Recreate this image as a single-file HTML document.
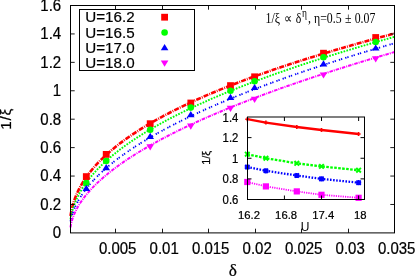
<!DOCTYPE html>
<html><head><meta charset="utf-8"><title>chart</title>
<style>html,body{margin:0;padding:0;background:#fff;}body{width:415px;height:277px;overflow:hidden;font-family:"Liberation Sans",sans-serif;}svg{display:block;will-change:transform;}</style>
</head><body>
<svg width="415" height="277" viewBox="0 0 415 277">
<rect width="415" height="277" fill="#fff"/>
<g fill="none">
<polyline points="70.50,216.00 70.75,214.39 70.99,212.95 71.24,211.63 71.49,210.41 71.73,209.28 71.98,208.21 72.23,207.20 72.47,206.24 72.72,205.33 72.97,204.45 73.22,203.61 73.46,202.80 73.71,202.02 73.96,201.26 74.20,200.52 74.45,199.81 74.70,199.12 74.94,198.44 75.19,197.79 75.44,197.14 75.68,196.52 75.93,195.90 76.18,195.30 76.42,194.72 76.67,194.14 76.92,193.58 77.16,193.02 77.41,192.48 77.66,191.95 77.91,191.42 78.15,190.90 78.40,190.40 78.65,189.90 78.89,189.40 79.14,188.92 79.39,188.44 79.63,187.97 79.88,187.50 80.13,187.04 80.37,186.59 80.62,186.14 80.87,185.70 81.11,185.27 81.36,184.83 81.61,184.41 81.85,183.99 82.10,183.57 82.35,183.16 82.59,182.75 82.84,182.35 83.09,181.95 83.34,181.56 83.58,181.17 83.83,180.78 84.08,180.40 84.32,180.02 84.57,179.64 84.82,179.27 85.06,178.90 85.31,178.53 85.56,178.17 85.80,177.81 86.05,177.46 86.30,177.10 86.54,176.75 86.79,176.41 87.04,176.06 87.28,175.72 87.53,175.38 87.78,175.05 88.03,174.71 88.27,174.38 88.52,174.05 88.77,173.72 89.01,173.40 89.26,173.08 89.51,172.76 89.75,172.44 90.00,172.13 92.04,169.60 94.09,167.20 96.13,164.90 98.17,162.71 100.22,160.61 102.26,158.58 104.31,156.62 106.35,154.73 108.39,152.89 110.44,151.11 112.48,149.38 114.52,147.70 116.57,146.06 118.61,144.46 120.65,142.89 122.70,141.37 124.74,139.87 126.79,138.41 128.83,136.97 130.87,135.57 132.92,134.19 134.96,132.83 137.00,131.50 139.05,130.19 141.09,128.90 143.13,127.64 145.18,126.39 147.22,125.16 149.27,123.95 151.31,122.76 153.35,121.59 155.40,120.43 157.44,119.29 159.48,118.16 161.53,117.04 163.57,115.94 165.61,114.86 167.66,113.79 169.70,112.73 171.74,111.68 173.79,110.64 175.83,109.62 177.88,108.60 179.92,107.60 181.96,106.61 184.01,105.63 186.05,104.65 188.09,103.69 190.14,102.74 192.18,101.79 194.22,100.86 196.27,99.93 198.31,99.01 200.36,98.11 202.40,97.20 204.44,96.31 206.49,95.42 208.53,94.55 210.57,93.67 212.62,92.81 214.66,91.95 216.70,91.10 218.75,90.26 220.79,89.42 222.84,88.59 224.88,87.77 226.92,86.95 228.97,86.14 231.01,85.33 233.05,84.53 235.10,83.74 237.14,82.95 239.18,82.16 241.23,81.38 243.27,80.61 245.32,79.84 247.36,79.08 249.40,78.32 251.45,77.57 253.49,76.82 255.53,76.08 257.58,75.34 259.62,74.60 261.66,73.87 263.71,73.15 265.75,72.43 267.80,71.71 269.84,71.00 271.88,70.29 273.93,69.58 275.97,68.88 278.01,68.19 280.06,67.49 282.10,66.81 284.14,66.12 286.19,65.44 288.23,64.76 290.28,64.09 292.32,63.42 294.36,62.75 296.41,62.09 298.45,61.43 300.49,60.77 302.54,60.12 304.58,59.46 306.62,58.82 308.67,58.17 310.71,57.53 312.76,56.89 314.80,56.26 316.84,55.63 318.89,55.00 320.93,54.37 322.97,53.75 325.02,53.13 327.06,52.51 329.10,51.90 331.15,51.29 333.19,50.68 335.23,50.07 337.28,49.47 339.32,48.87 341.37,48.27 343.41,47.67 345.45,47.08 347.50,46.49 349.54,45.90 351.58,45.31 353.63,44.73 355.67,44.15 357.71,43.57 359.76,42.99 361.80,42.42 363.85,41.85 365.89,41.28 367.93,40.71 369.98,40.14 372.02,39.58 374.06,39.02 376.11,38.46 378.15,37.90 380.19,37.35 382.24,36.80 384.28,36.25 386.33,35.70 388.37,35.15 390.41,34.61 392.46,34.07 394.50,33.52" stroke="#ff0000" stroke-width="2.6" stroke-dasharray="5 1.1 0.9 1.1"/>
<polyline points="70.50,219.44 70.75,217.93 70.99,216.58 71.24,215.36 71.49,214.22 71.73,213.17 71.98,212.17 72.23,211.23 72.47,210.33 72.72,209.48 72.97,208.66 73.22,207.87 73.46,207.11 73.71,206.38 73.96,205.67 74.20,204.98 74.45,204.31 74.70,203.65 74.94,203.02 75.19,202.40 75.44,201.79 75.68,201.20 75.93,200.62 76.18,200.06 76.42,199.50 76.67,198.96 76.92,198.42 77.16,197.90 77.41,197.38 77.66,196.87 77.91,196.37 78.15,195.88 78.40,195.40 78.65,194.92 78.89,194.45 79.14,193.99 79.39,193.53 79.63,193.08 79.88,192.64 80.13,192.20 80.37,191.77 80.62,191.34 80.87,190.92 81.11,190.50 81.36,190.09 81.61,189.68 81.85,189.27 82.10,188.87 82.35,188.48 82.59,188.09 82.84,187.70 83.09,187.32 83.34,186.94 83.58,186.56 83.83,186.19 84.08,185.82 84.32,185.46 84.57,185.09 84.82,184.74 85.06,184.38 85.31,184.03 85.56,183.68 85.80,183.33 86.05,182.99 86.30,182.65 86.54,182.31 86.79,181.97 87.04,181.64 87.28,181.31 87.53,180.98 87.78,180.65 88.03,180.33 88.27,180.01 88.52,179.69 88.77,179.37 89.01,179.06 89.26,178.75 89.51,178.44 89.75,178.13 90.00,177.82 92.04,175.36 94.09,173.02 96.13,170.78 98.17,168.63 100.22,166.57 102.26,164.57 104.31,162.65 106.35,160.78 108.39,158.97 110.44,157.21 112.48,155.49 114.52,153.82 116.57,152.19 118.61,150.60 120.65,149.05 122.70,147.52 124.74,146.03 126.79,144.57 128.83,143.13 130.87,141.73 132.92,140.34 134.96,138.99 137.00,137.65 139.05,136.34 141.09,135.04 143.13,133.77 145.18,132.52 147.22,131.28 149.27,130.06 151.31,128.86 153.35,127.67 155.40,126.50 157.44,125.35 159.48,124.21 161.53,123.08 163.57,121.96 165.61,120.86 167.66,119.78 169.70,118.70 171.74,117.64 173.79,116.58 175.83,115.54 177.88,114.51 179.92,113.49 181.96,112.48 184.01,111.48 186.05,110.49 188.09,109.51 190.14,108.54 192.18,107.57 194.22,106.62 196.27,105.67 198.31,104.73 200.36,103.80 202.40,102.88 204.44,101.97 206.49,101.06 208.53,100.16 210.57,99.27 212.62,98.38 214.66,97.50 216.70,96.63 218.75,95.77 220.79,94.91 222.84,94.05 224.88,93.21 226.92,92.36 228.97,91.53 231.01,90.70 233.05,89.88 235.10,89.06 237.14,88.25 239.18,87.44 241.23,86.64 243.27,85.84 245.32,85.05 247.36,84.26 249.40,83.48 251.45,82.70 253.49,81.93 255.53,81.16 257.58,80.40 259.62,79.64 261.66,78.88 263.71,78.13 265.75,77.39 267.80,76.65 269.84,75.91 271.88,75.18 273.93,74.45 275.97,73.72 278.01,73.00 280.06,72.28 282.10,71.57 284.14,70.86 286.19,70.15 288.23,69.45 290.28,68.75 292.32,68.05 294.36,67.36 296.41,66.67 298.45,65.98 300.49,65.30 302.54,64.62 304.58,63.94 306.62,63.27 308.67,62.60 310.71,61.93 312.76,61.27 314.80,60.61 316.84,59.95 318.89,59.30 320.93,58.64 322.97,58.00 325.02,57.35 327.06,56.71 329.10,56.06 331.15,55.43 333.19,54.79 335.23,54.16 337.28,53.53 339.32,52.90 341.37,52.28 343.41,51.65 345.45,51.03 347.50,50.42 349.54,49.80 351.58,49.19 353.63,48.58 355.67,47.97 357.71,47.37 359.76,46.76 361.80,46.16 363.85,45.56 365.89,44.97 367.93,44.37 369.98,43.78 372.02,43.19 374.06,42.60 376.11,42.02 378.15,41.43 380.19,40.85 382.24,40.27 384.28,39.70 386.33,39.12 388.37,38.55 390.41,37.98 392.46,37.41 394.50,36.84" stroke="#00ff00" stroke-width="1.9" stroke-dasharray="1.7 1.3"/>
<polyline points="70.50,221.38 70.75,220.18 70.99,219.08 71.24,218.06 71.49,217.12 71.73,216.22 71.98,215.38 72.23,214.57 72.47,213.80 72.72,213.06 72.97,212.35 73.22,211.66 73.46,211.00 73.71,210.35 73.96,209.73 74.20,209.12 74.45,208.52 74.70,207.94 74.94,207.38 75.19,206.83 75.44,206.28 75.68,205.75 75.93,205.24 76.18,204.73 76.42,204.23 76.67,203.73 76.92,203.25 77.16,202.78 77.41,202.31 77.66,201.85 77.91,201.39 78.15,200.95 78.40,200.51 78.65,200.07 78.89,199.64 79.14,199.22 79.39,198.80 79.63,198.39 79.88,197.98 80.13,197.58 80.37,197.18 80.62,196.79 80.87,196.40 81.11,196.02 81.36,195.64 81.61,195.26 81.85,194.89 82.10,194.52 82.35,194.15 82.59,193.79 82.84,193.43 83.09,193.08 83.34,192.73 83.58,192.38 83.83,192.03 84.08,191.69 84.32,191.35 84.57,191.01 84.82,190.68 85.06,190.35 85.31,190.02 85.56,189.69 85.80,189.37 86.05,189.04 86.30,188.73 86.54,188.41 86.79,188.09 87.04,187.78 87.28,187.47 87.53,187.17 87.78,186.86 88.03,186.56 88.27,186.25 88.52,185.96 88.77,185.66 89.01,185.36 89.26,185.07 89.51,184.78 89.75,184.49 90.00,184.20 92.04,181.88 94.09,179.66 96.13,177.53 98.17,175.48 100.22,173.51 102.26,171.60 104.31,169.75 106.35,167.96 108.39,166.21 110.44,164.51 112.48,162.86 114.52,161.24 116.57,159.66 118.61,158.11 120.65,156.60 122.70,155.11 124.74,153.66 126.79,152.23 128.83,150.82 130.87,149.44 132.92,148.09 134.96,146.75 137.00,145.44 139.05,144.15 141.09,142.87 143.13,141.62 145.18,140.38 147.22,139.16 149.27,137.95 151.31,136.76 153.35,135.59 155.40,134.43 157.44,133.28 159.48,132.15 161.53,131.03 163.57,129.92 165.61,128.83 167.66,127.74 169.70,126.67 171.74,125.61 173.79,124.56 175.83,123.52 177.88,122.49 179.92,121.47 181.96,120.46 184.01,119.45 186.05,118.46 188.09,117.48 190.14,116.50 192.18,115.54 194.22,114.58 196.27,113.63 198.31,112.68 200.36,111.75 202.40,110.82 204.44,109.90 206.49,108.98 208.53,108.08 210.57,107.18 212.62,106.28 214.66,105.39 216.70,104.51 218.75,103.64 220.79,102.77 222.84,101.91 224.88,101.05 226.92,100.20 228.97,99.35 231.01,98.51 233.05,97.68 235.10,96.85 237.14,96.02 239.18,95.20 241.23,94.39 243.27,93.58 245.32,92.77 247.36,91.97 249.40,91.18 251.45,90.39 253.49,89.60 255.53,88.82 257.58,88.04 259.62,87.27 261.66,86.50 263.71,85.73 265.75,84.97 267.80,84.21 269.84,83.46 271.88,82.71 273.93,81.97 275.97,81.22 278.01,80.49 280.06,79.75 282.10,79.02 284.14,78.29 286.19,77.57 288.23,76.85 290.28,76.13 292.32,75.42 294.36,74.71 296.41,74.00 298.45,73.30 300.49,72.60 302.54,71.90 304.58,71.21 306.62,70.52 308.67,69.83 310.71,69.14 312.76,68.46 314.80,67.78 316.84,67.11 318.89,66.43 320.93,65.76 322.97,65.09 325.02,64.43 327.06,63.76 329.10,63.10 331.15,62.45 333.19,61.79 335.23,61.14 337.28,60.49 339.32,59.84 341.37,59.20 343.41,58.56 345.45,57.92 347.50,57.28 349.54,56.64 351.58,56.01 353.63,55.38 355.67,54.75 357.71,54.13 359.76,53.50 361.80,52.88 363.85,52.26 365.89,51.64 367.93,51.03 369.98,50.42 372.02,49.81 374.06,49.20 376.11,48.59 378.15,47.99 380.19,47.38 382.24,46.78 384.28,46.18 386.33,45.59 388.37,44.99 390.41,44.40 392.46,43.81 394.50,43.22" stroke="#0000ff" stroke-width="1.8" stroke-dasharray="1.3 0.9 1.3 3.1"/>
<polyline points="70.50,227.39 70.75,225.78 70.99,224.45 71.24,223.30 71.49,222.26 71.73,221.31 71.98,220.43 72.23,219.61 72.47,218.82 72.72,218.08 72.97,217.37 73.22,216.69 73.46,216.03 73.71,215.40 73.96,214.79 74.20,214.20 74.45,213.62 74.70,213.06 74.94,212.51 75.19,211.98 75.44,211.46 75.68,210.95 75.93,210.45 76.18,209.96 76.42,209.48 76.67,209.01 76.92,208.55 77.16,208.10 77.41,207.65 77.66,207.21 77.91,206.78 78.15,206.36 78.40,205.94 78.65,205.52 78.89,205.12 79.14,204.71 79.39,204.32 79.63,203.93 79.88,203.54 80.13,203.16 80.37,202.78 80.62,202.41 80.87,202.04 81.11,201.67 81.36,201.31 81.61,200.95 81.85,200.60 82.10,200.25 82.35,199.90 82.59,199.56 82.84,199.22 83.09,198.88 83.34,198.55 83.58,198.22 83.83,197.89 84.08,197.56 84.32,197.24 84.57,196.92 84.82,196.60 85.06,196.29 85.31,195.98 85.56,195.67 85.80,195.36 86.05,195.05 86.30,194.75 86.54,194.45 86.79,194.15 87.04,193.85 87.28,193.56 87.53,193.27 87.78,192.98 88.03,192.69 88.27,192.40 88.52,192.12 88.77,191.84 89.01,191.56 89.26,191.28 89.51,191.00 89.75,190.72 90.00,190.45 92.04,188.24 94.09,186.13 96.13,184.10 98.17,182.15 100.22,180.26 102.26,178.44 104.31,176.67 106.35,174.95 108.39,173.27 110.44,171.64 112.48,170.05 114.52,168.50 116.57,166.98 118.61,165.49 120.65,164.03 122.70,162.59 124.74,161.19 126.79,159.81 128.83,158.45 130.87,157.12 132.92,155.81 134.96,154.51 137.00,153.24 139.05,151.99 141.09,150.75 143.13,149.53 145.18,148.33 147.22,147.14 149.27,145.97 151.31,144.81 153.35,143.67 155.40,142.54 157.44,141.42 159.48,140.31 161.53,139.22 163.57,138.14 165.61,137.07 167.66,136.01 169.70,134.96 171.74,133.92 173.79,132.89 175.83,131.87 177.88,130.87 179.92,129.87 181.96,128.87 184.01,127.89 186.05,126.92 188.09,125.95 190.14,124.99 192.18,124.04 194.22,123.10 196.27,122.17 198.31,121.24 200.36,120.32 202.40,119.40 204.44,118.50 206.49,117.60 208.53,116.70 210.57,115.81 212.62,114.93 214.66,114.06 216.70,113.19 218.75,112.32 220.79,111.47 222.84,110.61 224.88,109.77 226.92,108.93 228.97,108.09 231.01,107.26 233.05,106.43 235.10,105.61 237.14,104.79 239.18,103.98 241.23,103.18 243.27,102.37 245.32,101.58 247.36,100.78 249.40,99.99 251.45,99.21 253.49,98.43 255.53,97.65 257.58,96.88 259.62,96.11 261.66,95.35 263.71,94.59 265.75,93.83 267.80,93.08 269.84,92.33 271.88,91.59 273.93,90.84 275.97,90.11 278.01,89.37 280.06,88.64 282.10,87.91 284.14,87.19 286.19,86.47 288.23,85.75 290.28,85.04 292.32,84.32 294.36,83.62 296.41,82.91 298.45,82.21 300.49,81.51 302.54,80.81 304.58,80.12 306.62,79.43 308.67,78.74 310.71,78.06 312.76,77.38 314.80,76.70 316.84,76.02 318.89,75.35 320.93,74.68 322.97,74.01 325.02,73.34 327.06,72.68 329.10,72.02 331.15,71.36 333.19,70.71 335.23,70.05 337.28,69.40 339.32,68.76 341.37,68.11 343.41,67.47 345.45,66.82 347.50,66.19 349.54,65.55 351.58,64.91 353.63,64.28 355.67,63.65 357.71,63.02 359.76,62.40 361.80,61.77 363.85,61.15 365.89,60.53 367.93,59.91 369.98,59.30 372.02,58.69 374.06,58.07 376.11,57.46 378.15,56.86 380.19,56.25 382.24,55.65 384.28,55.05 386.33,54.45 388.37,53.85 390.41,53.25 392.46,52.66 394.50,52.06" stroke="#ff00ff" stroke-width="2.0" stroke-dasharray="3.5 1 1 1"/>
</g>
<rect x="82.9" y="173.2" width="6.8" height="6.8" fill="#ff0000"/>
<rect x="102.8" y="151.0" width="6.8" height="6.8" fill="#ff0000"/>
<rect x="146.8" y="120.3" width="6.8" height="6.8" fill="#ff0000"/>
<rect x="187.4" y="99.6" width="6.8" height="6.8" fill="#ff0000"/>
<rect x="227.1" y="82.2" width="6.8" height="6.8" fill="#ff0000"/>
<rect x="251.2" y="73.4" width="6.8" height="6.8" fill="#ff0000"/>
<rect x="320.1" y="49.8" width="6.8" height="6.8" fill="#ff0000"/>
<rect x="372.3" y="34.1" width="6.8" height="6.8" fill="#ff0000"/>
<circle cx="86.3" cy="183.1" r="3.3" fill="#00ff00"/>
<circle cx="106.2" cy="161.0" r="3.3" fill="#00ff00"/>
<circle cx="150.2" cy="129.7" r="3.3" fill="#00ff00"/>
<circle cx="190.8" cy="107.6" r="3.3" fill="#00ff00"/>
<circle cx="230.5" cy="90.7" r="3.3" fill="#00ff00"/>
<circle cx="254.6" cy="81.2" r="3.3" fill="#00ff00"/>
<circle cx="323.5" cy="57.3" r="3.3" fill="#00ff00"/>
<circle cx="375.7" cy="42.0" r="3.3" fill="#00ff00"/>
<path d="M82.5,190.9 L90.1,190.9 L86.3,184.7 Z" fill="#0000ff"/>
<path d="M102.4,170.2 L110.0,170.2 L106.2,164.0 Z" fill="#0000ff"/>
<path d="M146.4,138.9 L154.0,138.9 L150.2,132.7 Z" fill="#0000ff"/>
<path d="M187.0,117.2 L194.6,117.2 L190.8,111.0 Z" fill="#0000ff"/>
<path d="M226.7,99.9 L234.3,99.9 L230.5,93.7 Z" fill="#0000ff"/>
<path d="M250.8,90.1 L258.4,90.1 L254.6,83.9 Z" fill="#0000ff"/>
<path d="M319.7,66.5 L327.3,66.5 L323.5,60.3 Z" fill="#0000ff"/>
<path d="M371.9,50.6 L379.5,50.6 L375.7,44.4 Z" fill="#0000ff"/>
<path d="M146.4,144.2 L154.0,144.2 L150.2,150.4 Z" fill="#ff00ff"/>
<path d="M187.0,123.5 L194.6,123.5 L190.8,129.7 Z" fill="#ff00ff"/>
<path d="M226.7,105.8 L234.3,105.8 L230.5,112.0 Z" fill="#ff00ff"/>
<path d="M250.8,96.7 L258.4,96.7 L254.6,102.9 Z" fill="#ff00ff"/>
<path d="M319.7,72.4 L327.3,72.4 L323.5,78.6 Z" fill="#ff00ff"/>
<path d="M371.9,56.2 L379.5,56.2 L375.7,62.4 Z" fill="#ff00ff"/>
<g stroke="#000" stroke-width="1" fill="none">
<rect x="70.5" y="5.5" width="324.0" height="227.4"/>
<path d="M115.50,232.9 v-4.2 M115.50,5.5 v4.2" stroke-width="0.9"/>
<path d="M162.50,232.9 v-4.2 M162.50,5.5 v4.2" stroke-width="0.9"/>
<path d="M208.50,232.9 v-4.2 M208.50,5.5 v4.2" stroke-width="0.9"/>
<path d="M255.50,232.9 v-4.2 M255.50,5.5 v4.2" stroke-width="0.9"/>
<path d="M301.50,232.9 v-4.2 M301.50,5.5 v4.2" stroke-width="0.9"/>
<path d="M348.50,232.9 v-4.2 M348.50,5.5 v4.2" stroke-width="0.9"/>
<path d="M70.5,204.47 h4.2 M394.5,204.47 h-4.2" stroke-width="0.9"/>
<path d="M70.5,176.05 h4.2 M394.5,176.05 h-4.2" stroke-width="0.9"/>
<path d="M70.5,147.62 h4.2 M394.5,147.62 h-4.2" stroke-width="0.9"/>
<path d="M70.5,119.20 h4.2 M394.5,119.20 h-4.2" stroke-width="0.9"/>
<path d="M70.5,90.78 h4.2 M394.5,90.78 h-4.2" stroke-width="0.9"/>
<path d="M70.5,62.35 h4.2 M394.5,62.35 h-4.2" stroke-width="0.9"/>
<path d="M70.5,33.93 h4.2 M394.5,33.93 h-4.2" stroke-width="0.9"/>
</g>
<rect x="79.5" y="9.5" width="115.0" height="61.0" fill="#fff" stroke="#000" stroke-width="1"/>
<g font-family="Liberation Sans, sans-serif" font-size="15.5" fill="#000">
<text transform="translate(85.20,22.40) scale(1.0,1.02)" font-family="Liberation Sans, sans-serif" font-size="15.2" text-anchor="start" fill="#000" stroke="#000" stroke-width="0.2">U=16.2</text>
<text transform="translate(85.20,37.70) scale(1.0,1.02)" font-family="Liberation Sans, sans-serif" font-size="15.2" text-anchor="start" fill="#000" stroke="#000" stroke-width="0.2">U=16.5</text>
<text transform="translate(85.20,53.00) scale(1.0,1.02)" font-family="Liberation Sans, sans-serif" font-size="15.2" text-anchor="start" fill="#000" stroke="#000" stroke-width="0.2">U=17.0</text>
<text transform="translate(85.20,68.30) scale(1.0,1.02)" font-family="Liberation Sans, sans-serif" font-size="15.2" text-anchor="start" fill="#000" stroke="#000" stroke-width="0.2">U=18.0</text>
</g>
<rect x="161.2" y="13.8" width="6.8" height="6.8" fill="#ff0000"/>
<circle cx="164.6" cy="32.5" r="3.3" fill="#00ff00"/>
<path d="M160.8,50.3 L168.4,50.3 L164.6,44.1 Z" fill="#0000ff"/>
<path d="M160.8,60.6 L168.4,60.6 L164.6,66.8 Z" fill="#ff00ff"/>
<g font-family="Liberation Sans, sans-serif" font-size="15" fill="#000">
<text transform="translate(61.20,238.20) scale(1.0,1.09)" font-family="Liberation Sans, sans-serif" font-size="15" text-anchor="end" fill="#000" stroke="#000" stroke-width="0.22">0</text>
<text transform="translate(61.20,209.78) scale(1.0,1.09)" font-family="Liberation Sans, sans-serif" font-size="15" text-anchor="end" fill="#000" stroke="#000" stroke-width="0.22">0.2</text>
<text transform="translate(61.20,181.35) scale(1.0,1.09)" font-family="Liberation Sans, sans-serif" font-size="15" text-anchor="end" fill="#000" stroke="#000" stroke-width="0.22">0.4</text>
<text transform="translate(61.20,152.93) scale(1.0,1.09)" font-family="Liberation Sans, sans-serif" font-size="15" text-anchor="end" fill="#000" stroke="#000" stroke-width="0.22">0.6</text>
<text transform="translate(61.20,124.50) scale(1.0,1.09)" font-family="Liberation Sans, sans-serif" font-size="15" text-anchor="end" fill="#000" stroke="#000" stroke-width="0.22">0.8</text>
<text transform="translate(61.20,96.08) scale(1.0,1.09)" font-family="Liberation Sans, sans-serif" font-size="15" text-anchor="end" fill="#000" stroke="#000" stroke-width="0.22">1</text>
<text transform="translate(61.20,67.65) scale(1.0,1.09)" font-family="Liberation Sans, sans-serif" font-size="15" text-anchor="end" fill="#000" stroke="#000" stroke-width="0.22">1.2</text>
<text transform="translate(61.20,39.23) scale(1.0,1.09)" font-family="Liberation Sans, sans-serif" font-size="15" text-anchor="end" fill="#000" stroke="#000" stroke-width="0.22">1.4</text>
<text transform="translate(61.20,10.80) scale(1.0,1.09)" font-family="Liberation Sans, sans-serif" font-size="15" text-anchor="end" fill="#000" stroke="#000" stroke-width="0.22">1.6</text>
<text transform="translate(117.70,253.60) scale(1.0,1.09)" font-family="Liberation Sans, sans-serif" font-size="15" text-anchor="middle" fill="#000" stroke="#000" stroke-width="0.22">0.005</text>
<text transform="translate(164.20,253.60) scale(1.0,1.09)" font-family="Liberation Sans, sans-serif" font-size="15" text-anchor="middle" fill="#000" stroke="#000" stroke-width="0.22">0.01</text>
<text transform="translate(210.70,253.60) scale(1.0,1.09)" font-family="Liberation Sans, sans-serif" font-size="15" text-anchor="middle" fill="#000" stroke="#000" stroke-width="0.22">0.015</text>
<text transform="translate(257.20,253.60) scale(1.0,1.09)" font-family="Liberation Sans, sans-serif" font-size="15" text-anchor="middle" fill="#000" stroke="#000" stroke-width="0.22">0.02</text>
<text transform="translate(303.70,253.60) scale(1.0,1.09)" font-family="Liberation Sans, sans-serif" font-size="15" text-anchor="middle" fill="#000" stroke="#000" stroke-width="0.22">0.025</text>
<text transform="translate(350.20,253.60) scale(1.0,1.09)" font-family="Liberation Sans, sans-serif" font-size="15" text-anchor="middle" fill="#000" stroke="#000" stroke-width="0.22">0.03</text>
<text transform="translate(396.70,253.60) scale(1.0,1.09)" font-family="Liberation Sans, sans-serif" font-size="15" text-anchor="middle" fill="#000" stroke="#000" stroke-width="0.22">0.035</text>
</g>
<text transform="translate(232.80,275.60) scale(1.05,1.0)" font-family="Liberation Serif, serif" font-size="16.5" text-anchor="middle" fill="#000" stroke="#000" stroke-width="0.22">δ</text>
<text transform="translate(10.80,119.20) rotate(-90) scale(1.09,1.0)" font-family="Liberation Sans, sans-serif" font-size="14" text-anchor="middle" fill="#000" stroke="#000" stroke-width="0.22"><tspan letter-spacing="0.7">1/</tspan>ξ</text>
<text transform="translate(265.50,23.20) scale(1.0,1.21)" font-family="Liberation Serif, serif" font-size="11.8" text-anchor="start" fill="#000">1/ξ</text>
<text transform="translate(283.50,23.20) scale(1.0,1.21)" font-family="Liberation Serif, serif" font-size="11.8" text-anchor="start" fill="#000">∝</text>
<text transform="translate(295.80,23.20) scale(1.0,1.21)" font-family="Liberation Serif, serif" font-size="11.8" text-anchor="start" fill="#000">δ</text>
<text transform="translate(302.00,17.40) scale(1.0,1.21)" font-family="Liberation Serif, serif" font-size="9.5" text-anchor="start" fill="#000">η</text>
<text transform="translate(308.00,23.20) scale(1.0,1.21)" font-family="Liberation Serif, serif" font-size="11.8" text-anchor="start" fill="#000">,</text>
<text transform="translate(314.00,23.20) scale(1.0,1.21)" font-family="Liberation Serif, serif" font-size="11.8" text-anchor="start" fill="#000">η=0.5</text>
<text transform="translate(345.00,23.20) scale(1.0,1.21)" font-family="Liberation Serif, serif" font-size="11.8" text-anchor="start" fill="#000">±</text>
<text transform="translate(354.70,23.20) scale(1.0,1.21)" font-family="Liberation Serif, serif" font-size="11.8" text-anchor="start" fill="#000">0.07</text>
<rect x="247.5" y="117.0" width="117.0" height="82.5" fill="#fff" stroke="none"/>
<polyline points="247.3,119.2 265.9,122.6 296.8,127.0 321.5,130.0 358.6,134.0" fill="none" stroke="#ff0000" stroke-width="2.3"/>
<path d="M245.3,119.2 h4 M247.3,117.2 v4" stroke="#ff0000" stroke-width="1.6"/>
<path d="M263.9,122.6 h4 M265.9,120.6 v4" stroke="#ff0000" stroke-width="1.6"/>
<path d="M294.8,127.0 h4 M296.8,125.0 v4" stroke="#ff0000" stroke-width="1.6"/>
<path d="M319.5,130.0 h4 M321.5,128.0 v4" stroke="#ff0000" stroke-width="1.6"/>
<path d="M356.6,134.0 h4 M358.6,132.0 v4" stroke="#ff0000" stroke-width="1.6"/>
<polyline points="247.3,154.2 265.9,158.2 296.8,163.3 321.5,166.4 358.6,170.2" fill="none" stroke="#00ff00" stroke-width="2.3" stroke-dasharray="2.6 1.4"/>
<path d="M245.0,151.9 l4.6,4.6 M245.0,156.5 l4.6,-4.6" stroke="#00ff00" stroke-width="1.9"/>
<path d="M263.6,155.9 l4.6,4.6 M263.6,160.5 l4.6,-4.6" stroke="#00ff00" stroke-width="1.9"/>
<path d="M294.5,161.0 l4.6,4.6 M294.5,165.6 l4.6,-4.6" stroke="#00ff00" stroke-width="1.9"/>
<path d="M319.2,164.1 l4.6,4.6 M319.2,168.7 l4.6,-4.6" stroke="#00ff00" stroke-width="1.9"/>
<path d="M356.3,167.9 l4.6,4.6 M356.3,172.5 l4.6,-4.6" stroke="#00ff00" stroke-width="1.9"/>
<polyline points="247.3,167.0 265.9,170.8 296.8,175.5 321.5,178.9 358.6,182.7" fill="none" stroke="#0000ff" stroke-width="2.3" stroke-dasharray="1.6 1.5"/>
<path d="M245.1,164.8 l4.4,4.4 M245.1,169.2 l4.4,-4.4 M244.7,167.0 h5.2 M247.3,164.4 v5.2" stroke="#0000ff" stroke-width="1.7"/>
<path d="M263.7,168.6 l4.4,4.4 M263.7,173.0 l4.4,-4.4 M263.3,170.8 h5.2 M265.9,168.2 v5.2" stroke="#0000ff" stroke-width="1.7"/>
<path d="M294.6,173.3 l4.4,4.4 M294.6,177.7 l4.4,-4.4 M294.2,175.5 h5.2 M296.8,172.9 v5.2" stroke="#0000ff" stroke-width="1.7"/>
<path d="M319.3,176.7 l4.4,4.4 M319.3,181.1 l4.4,-4.4 M318.9,178.9 h5.2 M321.5,176.3 v5.2" stroke="#0000ff" stroke-width="1.7"/>
<path d="M356.4,180.5 l4.4,4.4 M356.4,184.9 l4.4,-4.4 M356.0,182.7 h5.2 M358.6,180.1 v5.2" stroke="#0000ff" stroke-width="1.7"/>
<polyline points="247.3,182.0 265.9,186.4 296.8,191.4 321.5,194.8 358.6,197.8" fill="none" stroke="#ff00ff" stroke-width="1.8" stroke-dasharray="1.2 1.1"/>
<rect x="244.2" y="178.9" width="6.2" height="6.2" fill="#ff00ff"/>
<rect x="262.8" y="183.3" width="6.2" height="6.2" fill="#ff00ff"/>
<rect x="293.7" y="188.3" width="6.2" height="6.2" fill="#ff00ff"/>
<rect x="318.4" y="191.7" width="6.2" height="6.2" fill="#ff00ff"/>
<rect x="355.5" y="194.7" width="6.2" height="6.2" fill="#ff00ff"/>
<g stroke="#000" stroke-width="1" fill="none">
<rect x="247.5" y="117.0" width="117.0" height="82.5"/>
<path d="M284.41,199.5 v-4 M284.41,117.0 v4"/>
<path d="M321.52,199.5 v-4 M321.52,117.0 v4"/>
<path d="M358.63,199.5 v-4 M358.63,117.0 v4"/>
<path d="M247.5,178.88 h4 M364.5,178.88 h-4"/>
<path d="M247.5,158.25 h4 M364.5,158.25 h-4"/>
<path d="M247.5,137.62 h4 M364.5,137.62 h-4"/>
</g>
<g font-family="Liberation Sans, sans-serif" font-size="11" fill="#000">
<text transform="translate(238.30,204.00) scale(1.0,1.06)" font-family="Liberation Sans, sans-serif" font-size="11.3" text-anchor="end" fill="#000" stroke="#000" stroke-width="0.22">0.6</text>
<text transform="translate(238.30,183.38) scale(1.0,1.06)" font-family="Liberation Sans, sans-serif" font-size="11.3" text-anchor="end" fill="#000" stroke="#000" stroke-width="0.22">0.8</text>
<text transform="translate(238.30,162.75) scale(1.0,1.06)" font-family="Liberation Sans, sans-serif" font-size="11.3" text-anchor="end" fill="#000" stroke="#000" stroke-width="0.22">1</text>
<text transform="translate(238.30,142.12) scale(1.0,1.06)" font-family="Liberation Sans, sans-serif" font-size="11.3" text-anchor="end" fill="#000" stroke="#000" stroke-width="0.22">1.2</text>
<text transform="translate(238.30,121.50) scale(1.0,1.06)" font-family="Liberation Sans, sans-serif" font-size="11.3" text-anchor="end" fill="#000" stroke="#000" stroke-width="0.22">1.4</text>
<text transform="translate(249.00,219.20) scale(1.0,1.03)" font-family="Liberation Sans, sans-serif" font-size="11.3" text-anchor="middle" fill="#000" stroke="#000" stroke-width="0.22">16.2</text>
<text transform="translate(286.11,219.20) scale(1.0,1.03)" font-family="Liberation Sans, sans-serif" font-size="11.3" text-anchor="middle" fill="#000" stroke="#000" stroke-width="0.22">16.8</text>
<text transform="translate(323.22,219.20) scale(1.0,1.03)" font-family="Liberation Sans, sans-serif" font-size="11.3" text-anchor="middle" fill="#000" stroke="#000" stroke-width="0.22">17.4</text>
<text transform="translate(360.33,219.20) scale(1.0,1.03)" font-family="Liberation Sans, sans-serif" font-size="11.3" text-anchor="middle" fill="#000" stroke="#000" stroke-width="0.22">18</text>
<text x="305" y="230.5" text-anchor="middle" font-size="12">U</text>
<text transform="translate(210.40,157.80) rotate(-90) scale(1.05,1.0)" font-family="Liberation Sans, sans-serif" font-size="10.5" text-anchor="middle" fill="#000" stroke="#000" stroke-width="0.22">1/ξ</text>
</g>
</svg>
</body></html>
